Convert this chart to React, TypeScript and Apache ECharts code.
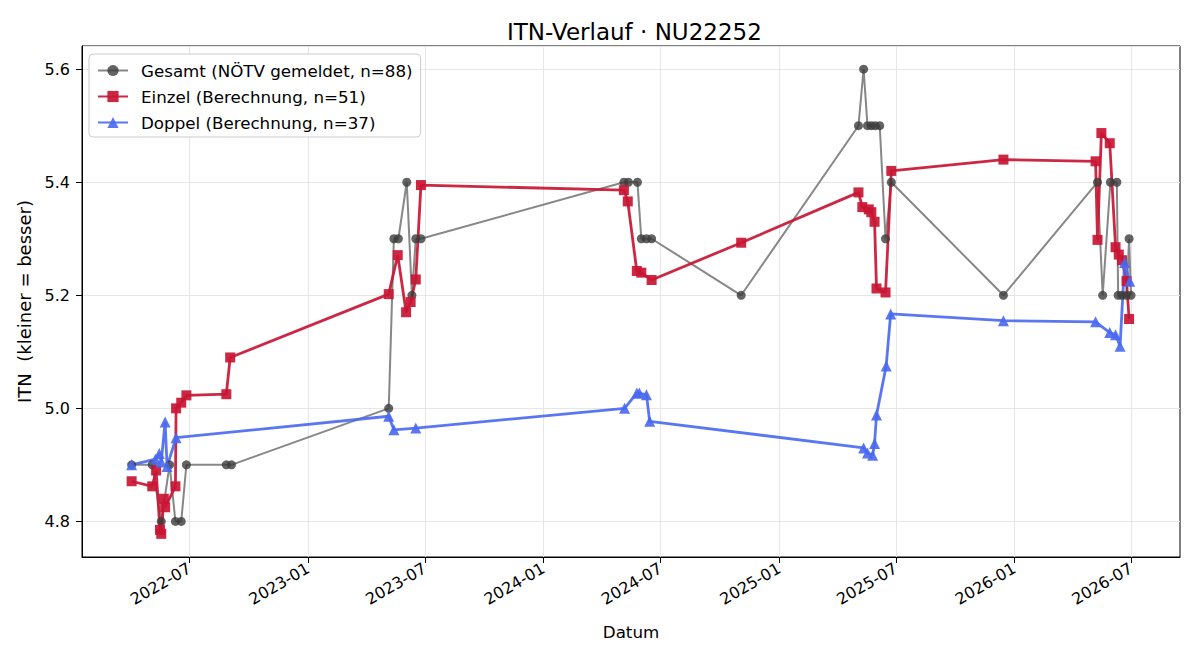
import React, { useEffect, useRef } from "react";
import * as echarts from "echarts";

const gesamtDates = [
  "2022-04-02", "2022-05-04", "2022-05-18", "2022-05-31", "2022-06-09", "2022-06-18", "2022-06-26",
  "2022-08-27", "2022-09-04", "2023-05-06", "2023-05-14", "2023-05-21", "2023-06-03", "2023-06-11",
  "2023-06-17", "2023-06-25", "2024-05-05", "2024-05-12", "2024-05-26", "2024-06-01", "2024-06-09",
  "2024-06-17", "2024-11-03", "2025-05-04", "2025-05-12", "2025-05-18", "2025-05-24", "2025-05-30",
  "2025-06-06", "2025-06-15", "2025-06-24", "2025-12-15", "2026-05-10", "2026-05-18", "2026-05-30",
  "2026-06-09", "2026-06-11", "2026-06-17", "2026-06-24", "2026-06-28", "2026-07-01",
];
const gesamtValues = [
  4.9, 4.9, 4.8, 4.9, 4.8, 4.8, 4.9,
  4.9, 4.9, 5.0, 5.3, 5.3, 5.4, 5.2,
  5.3, 5.3, 5.4, 5.4, 5.4, 5.3, 5.3,
  5.3, 5.2, 5.5, 5.6, 5.5, 5.5, 5.5,
  5.5, 5.3, 5.4, 5.2, 5.4, 5.2, 5.4,
  5.4, 5.2, 5.2, 5.2, 5.3, 5.2,
];

const einzelDates = [
  "2022-04-02", "2022-05-04", "2022-05-10", "2022-05-16", "2022-05-18", "2022-05-22", "2022-05-24",
  "2022-06-09", "2022-06-10", "2022-06-18", "2022-06-26", "2022-08-27", "2022-09-02",
  "2023-05-06", "2023-05-20", "2023-06-02", "2023-06-09", "2023-06-17", "2023-06-25",
  "2024-05-05", "2024-05-11", "2024-05-25", "2024-06-01", "2024-06-17", "2024-11-03",
  "2025-05-04", "2025-05-10", "2025-05-20", "2025-05-24", "2025-05-29", "2025-06-01", "2025-06-15",
  "2025-06-24", "2025-12-15", "2026-05-07", "2026-05-10", "2026-05-16", "2026-05-29", "2026-06-07",
  "2026-06-12", "2026-06-17", "2026-06-24", "2026-06-28",
];
const einzelValues = [
  4.871, 4.862, 4.89, 4.785, 4.778, 4.84, 4.825,
  4.862, 5.0, 5.01, 5.023, 5.025, 5.09,
  5.202, 5.271, 5.17, 5.188, 5.228, 5.395,
  5.386, 5.366, 5.243, 5.24, 5.227, 5.293,
  5.382, 5.356, 5.352, 5.347, 5.33, 5.212, 5.205,
  5.42, 5.44, 5.437, 5.298, 5.487, 5.469, 5.285,
  5.272, 5.262, 5.225, 5.158,
];

const doppelDates = [
  "2022-04-02", "2022-05-09", "2022-05-15", "2022-05-18", "2022-05-24", "2022-05-27", "2022-06-10",
  "2023-05-06", "2023-05-14", "2023-06-17", "2024-05-06", "2024-05-25", "2024-05-29", "2024-06-09",
  "2024-06-14", "2025-05-12", "2025-05-18", "2025-05-26", "2025-05-29", "2025-06-01", "2025-06-16",
  "2025-06-23", "2025-12-15", "2026-05-07", "2026-05-29", "2026-06-07", "2026-06-14", "2026-06-21",
  "2026-06-29",
];
const doppelValues = [
  4.9, 4.91, 4.92, 4.905, 4.976, 4.897, 4.948,
  4.986, 4.962, 4.965, 5.0, 5.027, 5.027, 5.024,
  4.977, 4.93, 4.921, 4.917, 4.938, 4.988, 5.075,
  5.167, 5.155, 5.153, 5.134, 5.13, 5.11, 5.258,
  5.225,
];

const xTickDates = [
  "2022-07-01", "2023-01-01", "2023-07-01", "2024-01-01", "2024-07-01",
  "2025-01-01", "2025-07-01", "2026-01-01", "2026-07-01",
];
const xRange = ["2022-01-15", "2026-09-15"];
const yRange = [4.737, 5.641];

const seriesNames = [
  "Gesamt (NÖTV gemeldet, n=88)",
  "Einzel (Berechnung, n=51)",
  "Doppel (Berechnung, n=37)",
];

const toUTC = (s: string) => {
  const [y, m, d] = s.split("-").map(Number);
  return Date.UTC(y, m - 1, d);
};
const pad = (n: number) => (n < 10 ? "0" + n : "" + n);
const pairs = (dates: string[], vals: number[]) => dates.map((d, i) => [toUTC(d), vals[i]]);

const FONT = "DejaVu Sans";

export default function App() {
  const ref = useRef<HTMLDivElement>(null);
  useEffect(() => {
    if (!ref.current) return;
    const chart = echarts.init(ref.current, undefined, { renderer: "svg" });
    const ticks = xTickDates.map(toUTC);
    chart.setOption({
      animation: false,
      backgroundColor: "#ffffff",
      textStyle: { fontFamily: FONT },
      title: {
        text: "ITN-Verlauf · NU22252",
        left: 502,
        top: 15,
        textStyle: { fontFamily: FONT, fontSize: 23, fontWeight: "normal", color: "#000" },
      },
      legend: {
        orient: "vertical",
        left: 89,
        top: 54,
        padding: [8, 8, 6, 8],
        itemWidth: 30,
        itemHeight: 14,
        itemGap: 9,
        backgroundColor: "rgba(255,255,255,0.85)",
        borderColor: "#cccccc",
        borderWidth: 1,
        borderRadius: 4,
        textStyle: { fontFamily: FONT, fontSize: 16.7, color: "#000", padding: [0, 0, 0, 8] },
        data: seriesNames,
      },
      grid: {
        left: 82,
        right: 20,
        top: 46,
        bottom: 103,
        show: true,
        borderColor: "#000",
        borderWidth: 1,
        backgroundColor: "transparent",
      },
      xAxis: {
        type: "value",
        min: toUTC(xRange[0]),
        max: toUTC(xRange[1]),
        name: "Datum",
        nameLocation: "middle",
        nameGap: 66,
        nameTextStyle: { fontFamily: FONT, fontSize: 16.7, color: "#000" },
        axisLine: { show: true, lineStyle: { color: "#000", width: 1 } },
        axisTick: { show: true, length: 6, lineStyle: { color: "#000" }, customValues: ticks },
        axisLabel: {
          customValues: ticks,
          rotate: 30,
          fontFamily: FONT,
          fontSize: 16,
          color: "#000",
          margin: 10,
          formatter: (v: number) => {
            const d = new Date(v);
            return d.getUTCFullYear() + "-" + pad(d.getUTCMonth() + 1);
          },
        },
        splitLine: { show: true, lineStyle: { color: "#e6e6e6", width: 1 } },
      },
      yAxis: {
        type: "value",
        min: yRange[0],
        max: yRange[1],
        splitNumber: 5,
        name: "ITN  (kleiner = besser)",
        nameLocation: "middle",
        nameGap: 47,
        nameTextStyle: { fontFamily: FONT, fontSize: 18, color: "#000" },
        axisLine: { show: true, lineStyle: { color: "#000", width: 1 } },
        axisTick: { show: true, length: 6, lineStyle: { color: "#000" } },
        axisLabel: {
          fontFamily: FONT,
          fontSize: 16,
          color: "#000",
          margin: 12,
          showMinLabel: false,
          showMaxLabel: false,
          formatter: (v: number) => v.toFixed(1),
        },
        splitLine: { show: true, lineStyle: { color: "#e6e6e6", width: 1 } },
      },
      series: [
        {
          name: seriesNames[0],
          type: "line",
          data: pairs(gesamtDates, gesamtValues),
          symbol: "circle",
          symbolSize: 9,
          lineStyle: { color: "rgba(105,105,105,0.8)", width: 2 },
          itemStyle: { color: "rgba(60,60,60,0.8)", borderWidth: 0 },
        },
        {
          name: seriesNames[1],
          type: "line",
          data: pairs(einzelDates, einzelValues),
          symbol: "rect",
          symbolSize: 10,
          lineStyle: { color: "rgba(200,22,52,0.92)", width: 2.8 },
          itemStyle: { color: "rgba(200,22,52,0.92)", borderWidth: 0 },
        },
        {
          name: seriesNames[2],
          type: "line",
          data: pairs(doppelDates, doppelValues),
          symbol: "triangle",
          symbolSize: 11,
          lineStyle: { color: "rgba(72,104,240,0.9)", width: 2.8 },
          itemStyle: { color: "rgba(72,104,240,0.9)", borderWidth: 0 },
        },
      ],
    });
    return () => chart.dispose();
  }, []);
  return (
    <div
      ref={ref}
      style={{ position: "fixed", left: 0, top: 0, width: 1200, height: 660 }}
    />
  );
}
